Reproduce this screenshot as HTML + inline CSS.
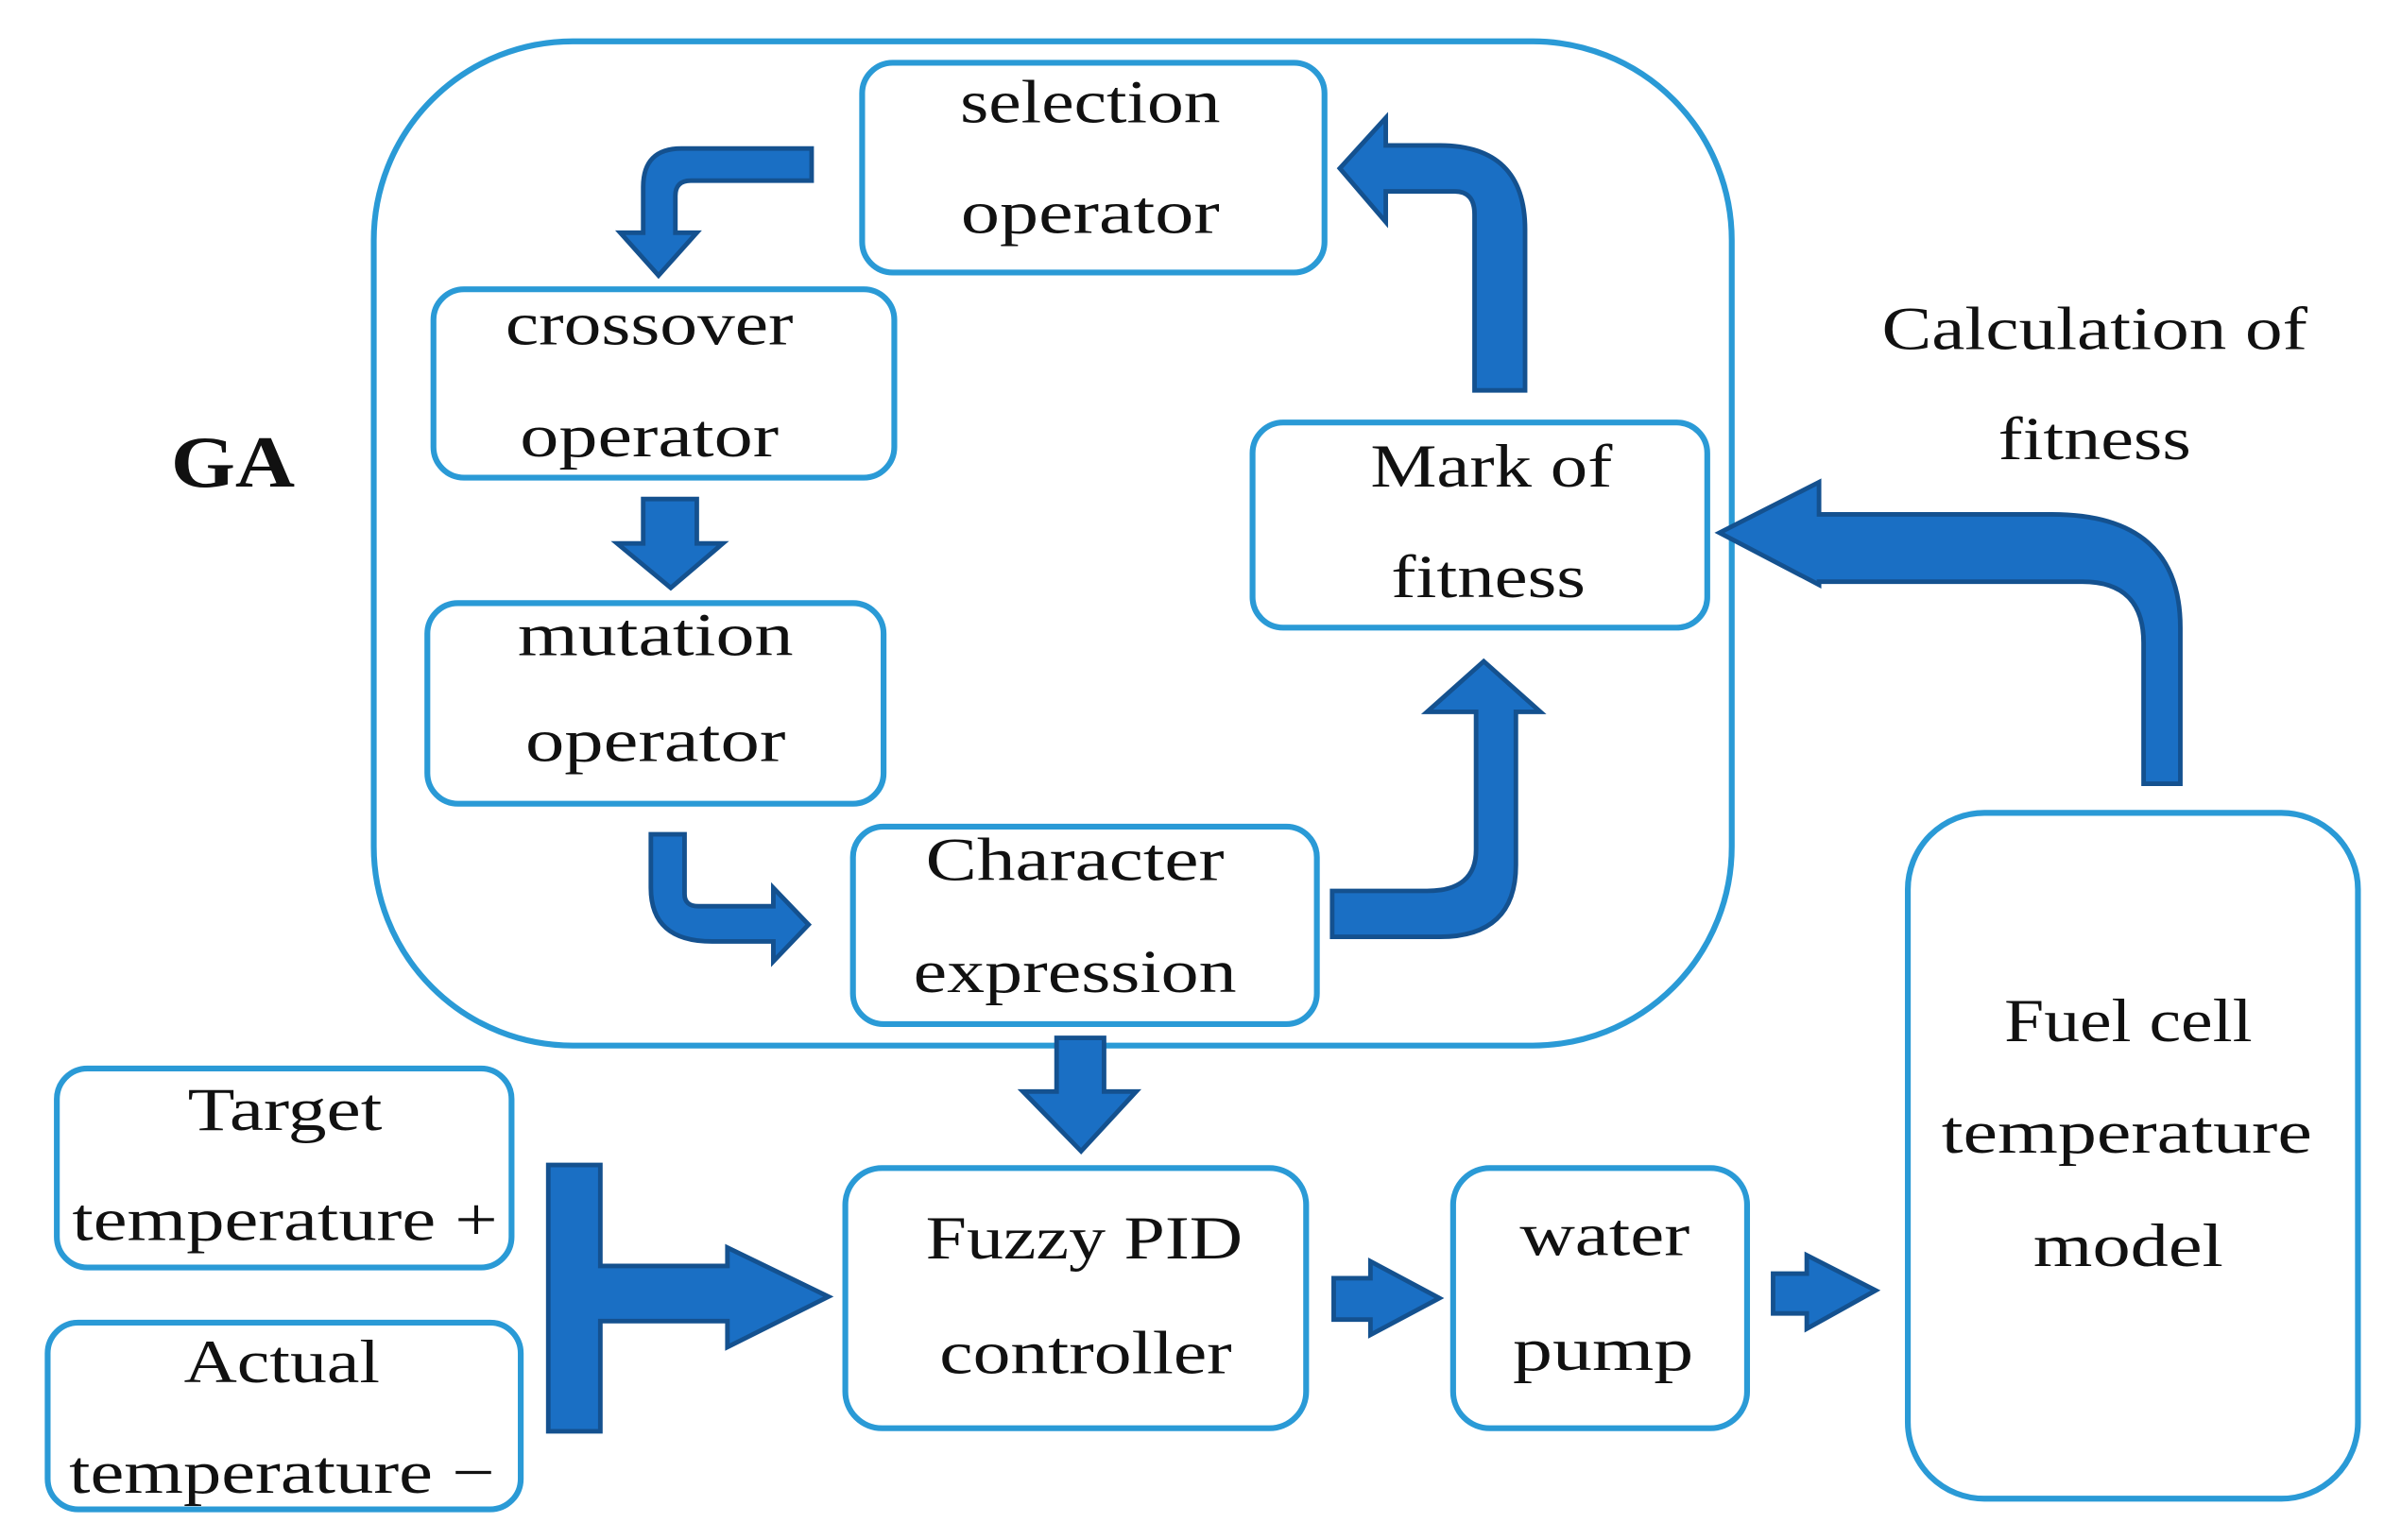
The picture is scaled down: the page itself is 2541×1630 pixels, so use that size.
<!DOCTYPE html>
<html><head><meta charset="utf-8"><style>html,body{margin:0;padding:0;background:#fff}svg{display:block}</style></head><body>
<svg width="2541" height="1630" viewBox="0 0 1568 1006" xmlns="http://www.w3.org/2000/svg">
<g fill="none" stroke="#2a9ad6" stroke-width="3.8">
<rect x="244" y="27" width="887" height="656" rx="130"/>
<rect x="563" y="41" width="302" height="137" rx="20"/>
<rect x="283" y="189" width="301" height="123" rx="20"/>
<rect x="279" y="394" width="298" height="131" rx="20"/>
<rect x="557" y="540" width="303" height="129" rx="20"/>
<rect x="818" y="276" width="297" height="134" rx="20"/>
<rect x="37" y="698" width="297" height="130" rx="20"/>
<rect x="31" y="864" width="309" height="122" rx="20"/>
<rect x="552" y="763" width="301" height="170" rx="24"/>
<rect x="949" y="763" width="192" height="170" rx="24"/>
<rect x="1246" y="531" width="294" height="448" rx="50"/>
</g>
<g fill="#1a6fc4" stroke="#14518f" stroke-width="3" stroke-linejoin="miter">
<path d="M530,97 L445,97 Q420,97 420,122 L420,152 L405,152 L430,180 L455,152 L441,152 L441,128 Q441,118 451,118 L530,118 Z"/>
<path d="M420,326 L455,326 L455,355 L472,355 L438,384 L403,355 L420,355 Z"/>
<path d="M425,545 L447,545 L447,584 Q447,592 456,592 L505,592 L505,580 L528,604 L505,628 L505,615 L465,615 Q425,615 425,580 Z"/>
<path d="M870,582 L932,582 Q964,582 964,555 L964,465 L932,465 L969,432 L1006,465 L990,465 L990,565 Q990,612 940,612 L870,612 Z"/>
<path d="M963,255 L996,255 L996,150 Q996,95 940,95 L905,95 L905,77 L875,110 L905,145 L905,125 L950,125 Q963,125 963,140 Z"/>
<path d="M1400,512 L1424,512 L1424,410 Q1424,336 1340,336 L1188,336 L1188,315 L1123,348 L1188,382 L1188,380 L1360,380 Q1400,380 1400,420 Z"/>
<path d="M690,678 L721,678 L721,713 L742,713 L706,752 L668,713 L690,713 Z"/>
<path d="M358,761 L392,761 L392,827 L475,827 L475,815 L541,847 L475,880 L475,863 L392,863 L392,935 L358,935 Z"/>
<path d="M871,835 L895,835 L895,824 L940,848 L895,872 L895,862 L871,862 Z"/>
<path d="M1158,832 L1180,832 L1180,820 L1225,843 L1180,868 L1180,858 L1158,858 Z"/>
</g>
<g font-family="Liberation Serif, serif" font-size="40" fill="#111" text-anchor="middle">
<text x="712" y="80" textLength="170" lengthAdjust="spacingAndGlyphs">selection</text>
<text x="712" y="152" textLength="169" lengthAdjust="spacingAndGlyphs">operator</text>
<text x="424" y="225" textLength="188" lengthAdjust="spacingAndGlyphs">crossover</text>
<text x="424" y="298" textLength="169" lengthAdjust="spacingAndGlyphs">operator</text>
<text x="428" y="428" textLength="180" lengthAdjust="spacingAndGlyphs">mutation</text>
<text x="428" y="497" textLength="170" lengthAdjust="spacingAndGlyphs">operator</text>
<text x="702" y="575" textLength="195" lengthAdjust="spacingAndGlyphs">Character</text>
<text x="702" y="648" textLength="211" lengthAdjust="spacingAndGlyphs">expression</text>
<text x="974" y="318" textLength="158" lengthAdjust="spacingAndGlyphs">Mark of</text>
<text x="972" y="390" textLength="127" lengthAdjust="spacingAndGlyphs">fitness</text>
<text x="1368" y="228" textLength="278" lengthAdjust="spacingAndGlyphs">Calculation of</text>
<text x="1368" y="300" textLength="126" lengthAdjust="spacingAndGlyphs">fitness</text>
<text x="186" y="738" textLength="127" lengthAdjust="spacingAndGlyphs">Target</text>
<text x="186" y="810" textLength="278" lengthAdjust="spacingAndGlyphs">temperature +</text>
<text x="184" y="903" textLength="128" lengthAdjust="spacingAndGlyphs">Actual</text>
<text x="184" y="975" textLength="278" lengthAdjust="spacingAndGlyphs">temperature −</text>
<text x="708" y="822" textLength="207" lengthAdjust="spacingAndGlyphs">Fuzzy PID</text>
<text x="709" y="897" textLength="191" lengthAdjust="spacingAndGlyphs">controller</text>
<text x="1048" y="820" textLength="111" lengthAdjust="spacingAndGlyphs">water</text>
<text x="1047" y="895" textLength="118" lengthAdjust="spacingAndGlyphs">pump</text>
<text x="1390" y="680" textLength="162" lengthAdjust="spacingAndGlyphs">Fuel cell</text>
<text x="1389" y="753" textLength="242" lengthAdjust="spacingAndGlyphs">temperature</text>
<text x="1390" y="827" textLength="124" lengthAdjust="spacingAndGlyphs">model</text>
<text x="152" y="318" font-size="48" font-weight="bold" textLength="81" lengthAdjust="spacingAndGlyphs">GA</text>
</g>
</svg>
</body></html>
